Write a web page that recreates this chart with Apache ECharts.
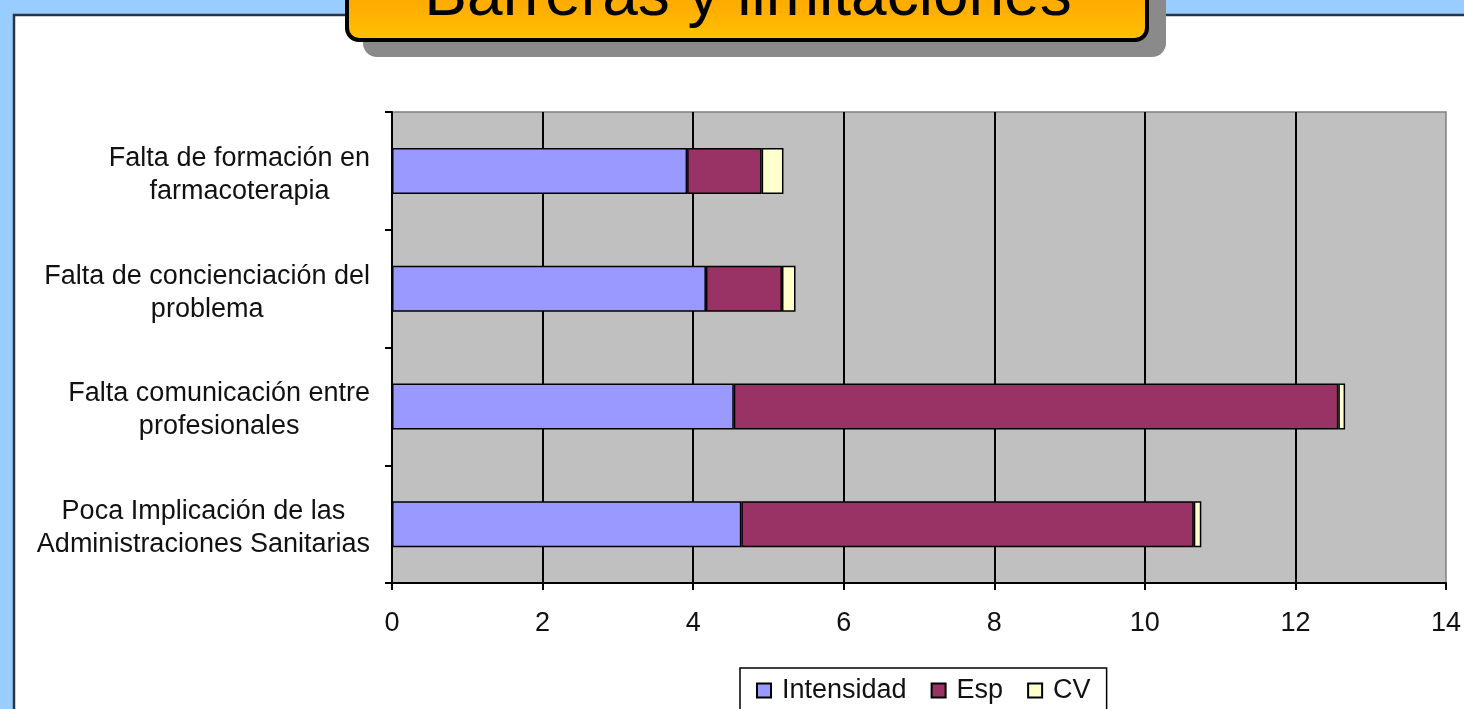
<!DOCTYPE html>
<html>
<head>
<meta charset="utf-8">
<script src="https://cdn.jsdelivr.net/npm/echarts@6/dist/echarts.min.js"></script>
<style>
html,body{margin:0;padding:0;width:1464px;height:709px;overflow:hidden;}
#chart{width:1464px;height:709px;}
</style>
</head>
<body>
<div id="chart"></div>
<script>
const titleText = 'Barreras y limitaciones';
const categories = [
  'Falta de formación en\nfarmacoterapia',
  'Falta de concienciación del\nproblema',
  'Falta comunicación entre\nprofesionales',
  'Poca Implicación de las\nAdministraciones Sanitarias'
];
const seriesNames = ['Intensidad', 'Esp', 'CV'];
const intensidad = [3.92, 4.17, 4.54, 4.64];
const esp = [0.99, 1.01, 8.03, 6.01];
const cv = [0.29, 0.18, 0.09, 0.10];
const xTicks = {min: 0, max: 14, interval: 2};
const colors = ['#9999FF', '#993366', '#FFFFCC'];

const chart = echarts.init(document.getElementById('chart'));
const font = 'Arial, "Liberation Sans", sans-serif';
const values = [intensidad, esp, cv];

chart.setOption({
  backgroundColor: '#99CCFF',
  animation: false,
  graphic: [
    {type: 'rect', z: -10, shape: {x: 14, y: 15, width: 1600, height: 900},
     style: {fill: '#FFFFFF', stroke: '#2B3440', lineWidth: 2.5}},
    {type: 'rect', z: 10, shape: {x: 363, y: -40, width: 803, height: 97, r: 14},
     style: {fill: '#8A8A8A'}},
    {type: 'rect', z: 11, shape: {x: 347, y: -40, width: 800, height: 80, r: 12},
     style: {fill: new echarts.graphic.LinearGradient(0, 0, 0, 1, [
       {offset: 0, color: '#FFA000'}, {offset: 0.6, color: '#FFAE00'}, {offset: 1, color: '#FFC400'}]),
       stroke: '#000000', lineWidth: 4}},
    {type: 'text', z: 12, x: 748, y: -3,
     style: {text: titleText, fill: '#000000', font: '64px ' + font,
       textAlign: 'center', textVerticalAlign: 'middle'}}
  ],
  grid: {
    left: 392, right: 18, top: 112, bottom: 126,
    show: true, backgroundColor: '#C0C0C0', borderColor: '#808080', borderWidth: 1.5
  },
  legend: {
    data: seriesNames,
    left: 740, top: 668,
    padding: [9, 16],
    itemWidth: 14, itemHeight: 14, itemGap: 24,
    borderColor: '#000', borderWidth: 1.5,
    icon: 'rect',
    textStyle: {fontSize: 27, color: '#111', fontFamily: font, padding: [0, 0, 0, 6]}
  },
  xAxis: {
    type: 'value',
    min: xTicks.min, max: xTicks.max, interval: xTicks.interval,
    axisLine: {show: true, lineStyle: {color: '#000', width: 2}},
    axisTick: {show: true, inside: false, length: 7, lineStyle: {color: '#000', width: 2}},
    axisLabel: {fontSize: 27, color: '#111', fontFamily: font, margin: 27},
    splitLine: {show: true, showMaxLine: false, lineStyle: {color: '#000', width: 2}}
  },
  yAxis: {
    type: 'category',
    inverse: true,
    data: categories,
    axisLine: {show: true, lineStyle: {color: '#000', width: 2}},
    axisTick: {show: true, inside: false, length: 7, lineStyle: {color: '#000', width: 2}},
    splitLine: {show: false},
    axisLabel: {
      margin: 22,
      padding: [8, 0, 0, 0],
      formatter: v => v.split('\n').map(l => '{c|' + l + '}').join('\n'),
      rich: {c: {align: 'center', fontSize: 27, lineHeight: 33, color: '#111', fontFamily: font}}
    }
  },
  series: seriesNames.map((name, i) => ({
    name: name,
    type: 'bar',
    stack: 'total',
    barWidth: 46,
    data: values[i],
    itemStyle: {color: colors[i], borderColor: '#000', borderWidth: 1.5}
  }))
});
</script>
</body>
</html>
